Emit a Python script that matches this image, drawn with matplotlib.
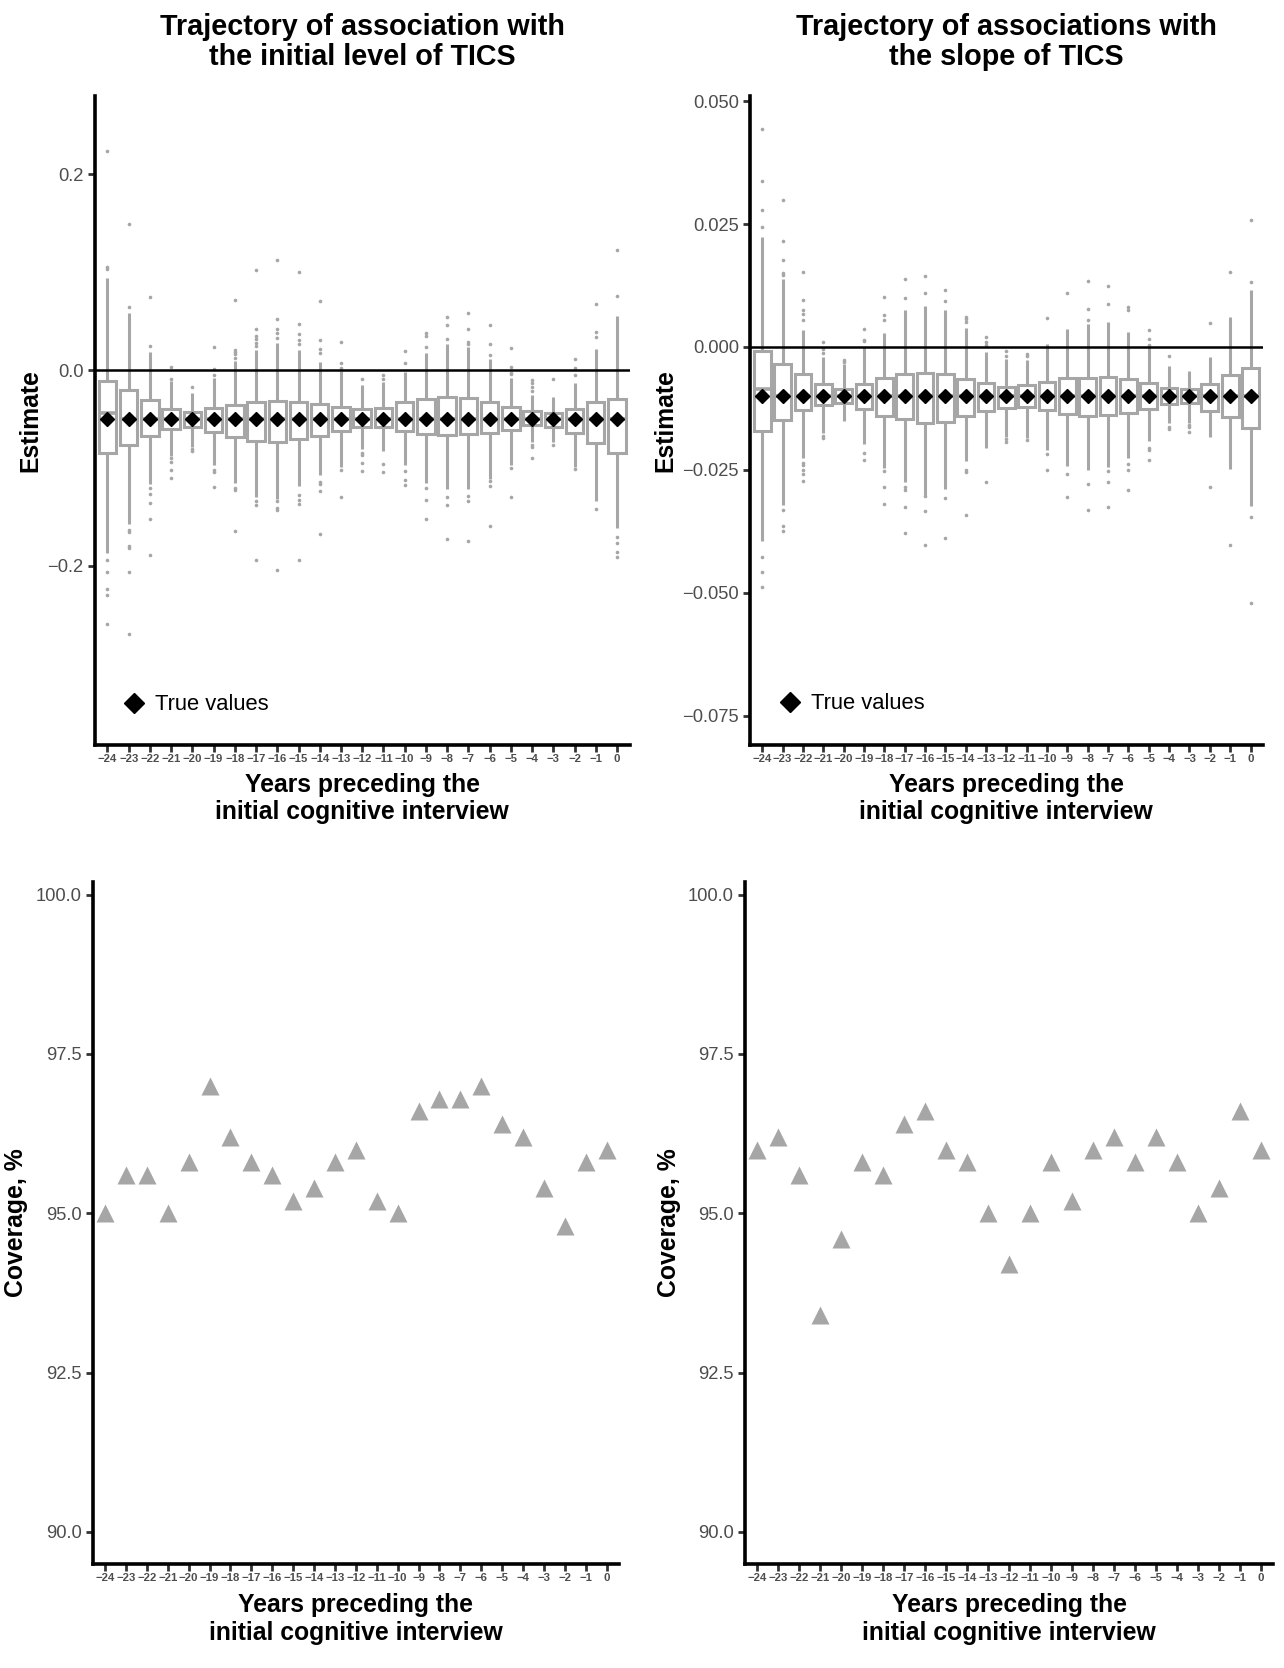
import matplotlib
matplotlib.use('Agg')
import matplotlib.pyplot as plt

plt.rcParams['font.family'] = ['Liberation Sans', 'DejaVu Sans']

# ---------------- data ----------------
years = list(range(-24, 1))
year_labels = ['\u2212%d' % (-y) if y < 0 else '0' for y in years]

# Panel A: association with initial level of TICS
lvl_true = [-0.05, -0.05, -0.05, -0.05, -0.05, -0.05, -0.05, -0.05, -0.05, -0.05,
            -0.05, -0.05, -0.05, -0.05, -0.05, -0.05, -0.05, -0.05, -0.05, -0.05,
            -0.05, -0.05, -0.05, -0.05, -0.05]
lvl_med = [-0.044, -0.050, -0.050, -0.050, -0.050, -0.050, -0.050, -0.050, -0.050, -0.050,
           -0.050, -0.050, -0.050, -0.050, -0.050, -0.050, -0.050, -0.050, -0.050, -0.050,
           -0.050, -0.050, -0.050, -0.050, -0.050]
lvl_q3 = [-0.0112, -0.0207, -0.0305, -0.0397, -0.0424, -0.0390, -0.0356, -0.0322, -0.0312, -0.0322,
          -0.0349, -0.0376, -0.0397, -0.0390, -0.0329, -0.0298, -0.0278, -0.0288, -0.0329, -0.0373,
          -0.0420, -0.0441, -0.0397, -0.0329, -0.0292]
lvl_q1 = [-0.0847, -0.0769, -0.0671, -0.0600, -0.0583, -0.0634, -0.0681, -0.0722, -0.0736, -0.0705,
          -0.0668, -0.0624, -0.0580, -0.0583, -0.0620, -0.0647, -0.0664, -0.0654, -0.0641, -0.0610,
          -0.0559, -0.0576, -0.0641, -0.0746, -0.0843]
lvl_whislo = [-0.1864, -0.1576, -0.1159, -0.0881, -0.0780, -0.0973, -0.1153, -0.1298, -0.1312, -0.1180,
              -0.1068, -0.0993, -0.0803, -0.0824, -0.0973, -0.1153, -0.1210, -0.1210, -0.1108, -0.0966,
              -0.0729, -0.0729, -0.0993, -0.1332, -0.1610]
lvl_whishi = [0.0944, 0.0587, 0.0190, -0.0112, -0.0237, -0.0081, 0.0095, 0.0204, 0.0282, 0.0204,
              0.0088, -0.0010, -0.0153, -0.0125, -0.0014, 0.0173, 0.0265, 0.0241, 0.0112, -0.0081,
              -0.0254, -0.0271, -0.0126, 0.0214, 0.0551]
lvl_fliers = [
    [0.103, 0.105, 0.224, -0.1939, -0.2061, -0.2231, -0.2298, -0.2593],
    [0.0645, 0.149, -0.1637, -0.1651, -0.1797, -0.1820, -0.2061, -0.2695],
    [0.0251, 0.0744, -0.1203, -0.1261, -0.1356, -0.1525, -0.1888],
    [-0.0085, 0.0030, -0.0898, -0.0939, -0.1017, -0.1102],
    [-0.0169, -0.0803, -0.0824],
    [-0.0045, 0.0010, 0.0235, -0.1017, -0.1044, -0.1197],
    [0.0126, 0.0163, 0.0187, 0.0207, 0.0713, -0.1203, -0.1227, -0.1644],
    [0.0248, 0.0282, 0.0316, 0.0350, 0.0424, 0.1022, -0.1339, -0.1373, -0.1939],
    [0.0333, 0.0384, 0.0424, 0.0520, 0.1127, -0.1332, -0.1407, -0.1424, -0.2041],
    [0.0265, 0.0306, 0.0367, 0.0472, 0.1008, -0.1271, -0.1322, -0.1366, -0.1939],
    [0.0180, 0.0214, 0.0312, 0.0710, -0.1142, -0.1163, -0.1231, -0.1678],
    [0.0027, 0.0075, 0.0285, -0.1017, -0.1298],
    [-0.0085, -0.0847, -0.0864, -0.0949, -0.1027],
    [-0.0085, -0.0051, -0.0959, -0.1044],
    [0.0078, 0.0197, -0.1027, -0.1119, -0.1169],
    [0.0241, 0.0350, 0.0384, -0.1203, -0.1322, -0.1525],
    [0.0316, 0.0458, 0.0547, -0.1298, -0.1380, -0.1729],
    [0.0265, 0.0289, 0.0421, 0.0581, -0.1288, -0.1332, -0.1746],
    [0.0160, 0.0272, 0.0465, -0.1129, -0.1186, -0.1593],
    [-0.0041, -0.0024, 0.0037, 0.0231, -0.1000, -0.1298],
    [-0.0210, -0.0170, -0.0136, -0.0102, -0.0763, -0.0780, -0.0898],
    [-0.0085, -0.0769],
    [-0.0048, 0.0027, 0.0119, -0.1007],
    [0.0343, 0.0394, 0.0679, -0.1417],
    [0.0757, 0.1232, -0.1700, -0.1770, -0.1860, -0.1910],
]

# Panel B: association with slope of TICS
slp_true = [-0.010, -0.010, -0.010, -0.010, -0.010, -0.010, -0.010, -0.010, -0.010, -0.010,
            -0.010, -0.010, -0.010, -0.010, -0.010, -0.010, -0.010, -0.010, -0.010, -0.010,
            -0.010, -0.010, -0.010, -0.010, -0.010]
slp_med = [-0.0086, -0.0100, -0.0100, -0.0100, -0.0100, -0.0100, -0.0100, -0.0100, -0.0100, -0.0100,
           -0.0100, -0.0100, -0.0100, -0.0100, -0.0100, -0.0100, -0.0100, -0.0100, -0.0100, -0.0100,
           -0.0100, -0.0100, -0.0100, -0.0100, -0.0100]
slp_q3 = [-0.0008, -0.0034, -0.0056, -0.0076, -0.0086, -0.0076, -0.0064, -0.0055, -0.0053, -0.0055,
          -0.0066, -0.0074, -0.0081, -0.0078, -0.0072, -0.0063, -0.0063, -0.0061, -0.0066, -0.0073,
          -0.0083, -0.0085, -0.0076, -0.0057, -0.0043]
slp_q1 = [-0.0170, -0.0149, -0.0129, -0.0118, -0.0115, -0.0126, -0.0140, -0.0147, -0.0155, -0.0152,
          -0.0141, -0.0130, -0.0124, -0.0122, -0.0128, -0.0137, -0.0141, -0.0139, -0.0134, -0.0126,
          -0.0116, -0.0114, -0.0130, -0.0143, -0.0165]
slp_whislo = [-0.0395, -0.0321, -0.0225, -0.0176, -0.0150, -0.0198, -0.0247, -0.0274, -0.0301, -0.0289,
              -0.0233, -0.0206, -0.0184, -0.0186, -0.0209, -0.0242, -0.0251, -0.0245, -0.0225, -0.0191,
              -0.0155, -0.0155, -0.0183, -0.0248, -0.0324]
slp_whishi = [0.0224, 0.0138, 0.0034, -0.0020, -0.0035, 0.0000, 0.0029, 0.0076, 0.0083, 0.0076,
              0.0039, -0.0010, -0.0024, -0.0026, 0.0005, 0.0037, 0.0046, 0.0051, 0.0031, 0.0000,
              -0.0039, -0.0049, -0.0020, 0.0061, 0.0115]
slp_fliers = [
    [0.0245, 0.0278, 0.0337, 0.0444, -0.0427, -0.0457, -0.0489],
    [0.0146, 0.0150, 0.0176, 0.0215, 0.0298, -0.0332, -0.0365, -0.0374],
    [0.0054, 0.0068, 0.0076, 0.0095, 0.0152, -0.0236, -0.0240, -0.0250, -0.0259, -0.0272],
    [-0.0012, -0.0005, 0.0010, -0.0182, -0.0186],
    [-0.0030, -0.0027],
    [0.0012, 0.0015, 0.0037, -0.0216, -0.0230],
    [0.0054, 0.0064, 0.0101, -0.0253, -0.0284, -0.0319],
    [0.0099, 0.0139, -0.0285, -0.0292, -0.0326, -0.0378],
    [0.0110, 0.0145, -0.0304, -0.0334, -0.0402],
    [0.0093, 0.0116, -0.0307, -0.0389],
    [0.0051, 0.0056, 0.0061, -0.0250, -0.0255, -0.0341],
    [0.0003, 0.0011, 0.0020, -0.0274],
    [-0.0019, -0.0009, -0.0188, -0.0193],
    [-0.0018, -0.0015, -0.0189],
    [0.0058, -0.0218, -0.0250],
    [0.0110, -0.0258, -0.0305],
    [0.0054, 0.0078, 0.0134, -0.0278, -0.0332],
    [0.0088, 0.0124, -0.0253, -0.0275, -0.0326],
    [0.0075, 0.0082, -0.0239, -0.0250, -0.0291],
    [0.0003, 0.0016, 0.0035, -0.0206, -0.0209, -0.0230],
    [-0.0019, -0.0162, -0.0167],
    [-0.0159, -0.0162, -0.0172],
    [0.0048, -0.0285],
    [0.0152, -0.0402],
    [0.0133, 0.0259, -0.0346, -0.0520],
]

# Coverage (%)
cov_level = [95.0, 95.6, 95.6, 95.0, 95.8, 97.0, 96.2, 95.8, 95.6, 95.2, 95.4, 95.8, 96.0,
             95.2, 95.0, 96.6, 96.8, 96.8, 97.0, 96.4, 96.2, 95.4, 94.8, 95.8, 96.0]
cov_slope = [96.0, 96.2, 95.6, 93.4, 94.6, 95.8, 95.6, 96.4, 96.6, 96.0, 95.8, 95.0, 94.2,
             95.0, 95.8, 95.2, 96.0, 96.2, 95.8, 96.2, 95.8, 95.0, 95.4, 96.6, 96.0]

lvl_yticks = [-0.2, 0.0, 0.2]
lvl_ylabels = ['\u22120.2', '0.0', '0.2']
slp_yticks = [-0.075, -0.050, -0.025, 0.000, 0.025, 0.050]
slp_ylabels = ['\u22120.075', '\u22120.050', '\u22120.025', '0.000', '0.025', '0.050']
cov_yticks = [90.0, 92.5, 95.0, 97.5, 100.0]
cov_ylabels = ['90.0', '92.5', '95.0', '97.5', '100.0']

title_level = 'Trajectory of association with\nthe initial level of TICS'
title_slope = 'Trajectory of associations with\nthe slope of TICS'
xlab = 'Years preceding the\ninitial cognitive interview'

# ---------------- style ----------------
GRAY = '#A6A6A6'
TICKTXT = '#4D4D4D'
pos = list(range(len(years)))

fig = plt.figure(figsize=(12.84, 16.68), dpi=100)
ax_tl = fig.add_axes([0.07374, 0.55357, 0.41670, 0.38903])
ax_tr = fig.add_axes([0.58409, 0.55357, 0.39934, 0.38903])
ax_bl = fig.add_axes([0.07208, 0.06250, 0.41011, 0.40880])
ax_br = fig.add_axes([0.57995, 0.06250, 0.41176, 0.40880])


def style(ax, yticks, ylabels, ylabel, ylab_x):
    for s in ['top', 'right']:
        ax.spines[s].set_visible(False)
    for s in ['left', 'bottom']:
        ax.spines[s].set_linewidth(2.6)
        ax.spines[s].set_color('black')
        ax.spines[s].set_capstyle('projecting')
    ax.set_xlim(-0.6, len(years) - 0.4)
    ax.set_xticks(pos)
    ax.set_xticklabels(year_labels, fontsize=8.2, fontweight='bold', color=TICKTXT)
    ax.set_yticks(yticks)
    ax.set_yticklabels(ylabels, fontsize=13.2, color=TICKTXT)
    ax.tick_params(axis='both', length=5.0, width=2.0, color='#333333')
    ax.tick_params(axis='x', pad=2.0)
    ax.tick_params(axis='y', pad=3.0)
    ax.set_xlabel(xlab, fontsize=17.8, fontweight='bold', linespacing=1.2)
    ax.xaxis.set_label_coords(0.5, -0.043)
    ax.set_ylabel(ylabel, fontsize=17.8, fontweight='bold')
    ax.yaxis.set_label_coords(ylab_x, 0.5)


def boxes(ax, q1, q3, med, lo, hi, fl, truth, title, ylim, leg_xy):
    stats = [dict(med=m, q1=a, q3=b, whislo=l, whishi=h, fliers=f)
             for a, b, m, l, h, f in zip(q1, q3, med, lo, hi, fl)]
    ax.bxp(stats, positions=pos, widths=0.82, showcaps=False, patch_artist=True,
           boxprops=dict(facecolor='white', edgecolor=GRAY, linewidth=2.2),
           whiskerprops=dict(color=GRAY, linewidth=2.2, solid_capstyle='butt'),
           medianprops=dict(color=GRAY, linewidth=2.6),
           flierprops=dict(marker='o', markerfacecolor=GRAY, markeredgecolor='none',
                           markersize=2.6),
           manage_ticks=False, zorder=2)
    ax.axhline(0, color='black', linewidth=1.8, zorder=3)
    ax.plot(pos, truth, linestyle='none', marker='D', markersize=7.5, color='black',
            zorder=4, label='True values')
    ax.set_ylim(*ylim)
    ax.set_title(title, fontsize=20.7, fontweight='bold', pad=22, linespacing=1.08)
    ax.legend(loc='center left', bbox_to_anchor=leg_xy, frameon=False, fontsize=15.8,
              handlelength=1.0, handletextpad=0.45, borderpad=0, borderaxespad=0,
              markerscale=1.3)


boxes(ax_tl, lvl_q1, lvl_q3, lvl_med, lvl_whislo, lvl_whishi, lvl_fliers, lvl_true,
      title_level, (-0.3826, 0.2804), (0.0529, 0.0612))
style(ax_tl, lvl_yticks, lvl_ylabels, 'Estimate', -0.0985)

boxes(ax_tr, slp_q1, slp_q3, slp_med, slp_whislo, slp_whishi, slp_fliers, slp_true,
      title_slope, (-0.0809, 0.0511), (0.0573, 0.0629))
style(ax_tr, slp_yticks, slp_ylabels, 'Estimate', -0.1414)

for ax, cov, yx in [(ax_bl, cov_level, -0.1225), (ax_br, cov_slope, -0.1205)]:
    ax.plot(pos, cov, linestyle='none', marker='^', markersize=12.3, color=GRAY,
            markeredgecolor='none')
    ax.set_ylim(89.5, 100.2)
    style(ax, cov_yticks, cov_ylabels, 'Coverage, %', yx)

fig.savefig('out.png', dpi=100)
